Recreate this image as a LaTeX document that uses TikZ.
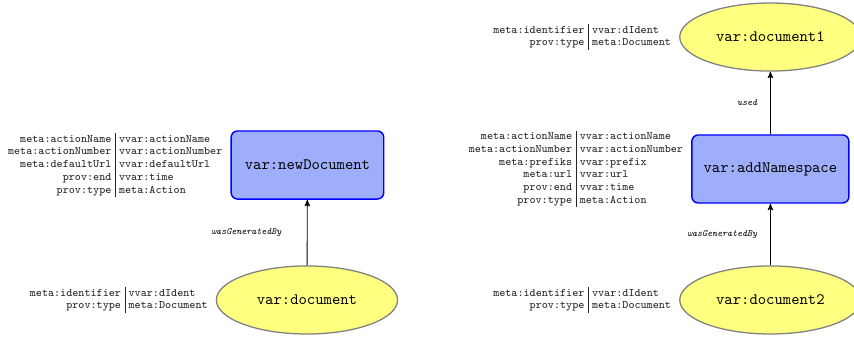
\documentclass[tikz,border=0pt]{standalone}
\usepackage{amsmath}
\usepackage{tikz}
\usetikzlibrary{arrows, positioning, shapes.geometric}

\definecolor{actfill}{RGB}{159,174,250}
\definecolor{entfill}{RGB}{255,255,128}
\newcommand{\attrtab}[1]{{\fontsize{7.2}{8.2}\selectfont\ttfamily\setlength{\tabcolsep}{2.4pt}\renewcommand{\arraystretch}{0.98}\begin{tabular}{r|l}#1\end{tabular}}}

\begin{document}
\begin{tikzpicture}[->,>=stealth',line width=0.55pt,
    act node/.style={rectangle,rounded corners=4pt,draw=blue,line width=0.9pt,fill=actfill,minimum width=96pt,minimum height=42.8pt,inner sep=0pt,font=\ttfamily},
    ent node/.style={ellipse,draw=gray,line width=0.8pt,fill=entfill,minimum width=114pt,minimum height=42.8pt,inner sep=0pt,font=\ttfamily},
    attr node/.style={inner sep=0pt,text=black!85},
    rel label/.style={font=\fontsize{6}{7}\selectfont\ttfamily\itshape,inner sep=0pt}]
    \useasboundingbox (0,0) rectangle (537.2pt,212pt);

    \node[act node] (newDoc)  at (193.4pt,108.2pt) {var:newDocument};
    \node[ent node] (doc)     at (193.1pt,23.3pt)  {var:document};
    \node[act node,minimum width=98.8pt] (addNs) at (484.6pt,105.7pt) {var:addNamespace};
    \node[ent node] (doc1)    at (484.6pt,188.7pt) {var:document1};
    \node[ent node] (doc2)    at (484.6pt,23.3pt)  {var:document2};

    \node[attr node] (newDocAttr) [left=2.4pt of newDoc] {\attrtab{
        meta:actionName & vvar:actionName\\
        meta:actionNumber & vvar:actionNumber\\
        meta:defaultUrl & vvar:defaultUrl\\
        prov:end & vvar:time\\
        prov:type & meta:Action}};
    \node[attr node] (docAttr) [left=2.4pt of doc] {\attrtab{
        meta:identifier & vvar:dIdent\\
        prov:type & meta:Document}};
    \node[attr node] (addNsAttr) [left=2.4pt of addNs] {\attrtab{
        meta:actionName & vvar:actionName\\
        meta:actionNumber & vvar:actionNumber\\
        meta:prefiks & vvar:prefix\\
        meta:url & vvar:url\\
        prov:end & vvar:time\\
        prov:type & meta:Action}};
    \node[attr node] (doc1Attr) [left=2.4pt of doc1] {\attrtab{
        meta:identifier & vvar:dIdent\\
        prov:type & meta:Document}};
    \node[attr node] (doc2Attr) [left=2.4pt of doc2] {\attrtab{
        meta:identifier & vvar:dIdent\\
        prov:type & meta:Document}};

    \path
        (doc)   edge node [rel label,left=16pt] {wasGeneratedBy} (newDoc)
        (doc2)  edge node [rel label,left=8pt]  {wasGeneratedBy} (addNs)
        (addNs) edge node [rel label,left=8pt]  {used}           (doc1);
\end{tikzpicture}
\end{document}
